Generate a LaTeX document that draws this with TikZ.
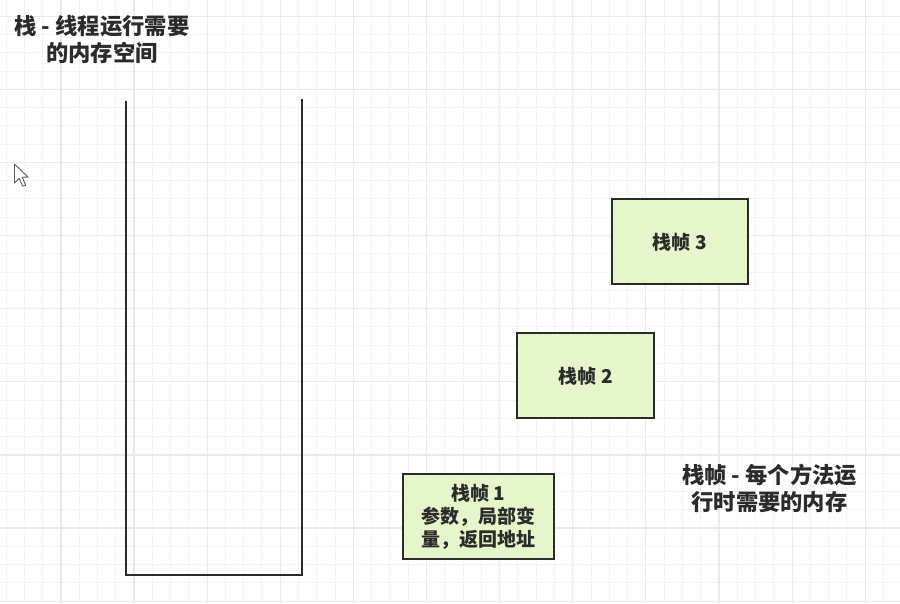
\documentclass[tikz,border=0pt]{standalone}
\usepackage{fontspec}
\newfontfamily\cjk{Noto Sans CJK SC}
\definecolor{gridminor}{HTML}{F3F3F3}
\definecolor{gridmajor}{HTML}{EAEAEA}
\definecolor{ink}{HTML}{2B2B2B}
\definecolor{framefill}{HTML}{E6F6CB}
\begin{document}
\begin{tikzpicture}[x=1pt,y=-1pt,
  label text/.style={text=ink, font={\cjk\bfseries\fontsize{22.3}{26.6}\selectfont}, align=center, inner sep=0pt},
  framebox/.style={draw=ink, line width=2pt, fill=framefill, text=ink,
    font={\cjk\bfseries\fontsize{19}{23.3}\selectfont}, align=center, inner sep=0pt},
  wall/.style={draw=ink, line width=2.2pt}]
  \useasboundingbox (0,0) rectangle (900,603);
  \fill[white] (0,0) rectangle (900,603);
  % background grid: fine lines, every fourth one a little darker
  \foreach \i in {0,...,49}{
    \draw[gridminor, line width=1pt] (6.06+18.28*\i,0) -- (6.06+18.28*\i,603);
  }
  \foreach \i in {0,...,33}{
    \draw[gridminor, line width=1pt] (0,-2.1+18.28*\i) -- (900,-2.1+18.28*\i);
  }
  \foreach \i in {0,...,12}{
    \draw[gridmajor, line width=1.2pt] (60.9+73.12*\i-73.12,0) -- (60.9+73.12*\i-73.12,603);
  }
  \foreach \i in {0,...,8}{
    \draw[gridmajor, line width=1.2pt] (0,16.2+73.12*\i) -- (900,16.2+73.12*\i);
  }

  % mouse pointer
  \draw[fill=white, draw=black!65, line width=0.9pt, line join=round]
    (14.5,164) -- (14.5,183) -- (19.2,178.3) -- (22.8,186.3) -- (25.6,185) -- (22.2,177.3) -- (28,177) -- cycle;

  % caption of the stack
  \node[label text] (stacktitle) at (102,39.5) {栈 - 线程运行需要\\的内存空间};

  % the stack: an open container
  \coordinate (sTL) at (126,100.5);
  \coordinate (sBL) at (126,575);
  \coordinate (sBR) at (302.3,575);
  \coordinate (sTR) at (302.3,98.5);
  \draw[wall, line join=miter] (sTL) -- (sBL) -- (sBR) -- (sTR);

  % stack frames
  \node[framebox, minimum width=136pt, minimum height=85pt] (f3) at (679.7,241.8) {栈帧 3};
  \node[framebox, minimum width=137pt, minimum height=85pt] (f2) at (585.8,375.8) {栈帧 2};
  \node[framebox, minimum width=151pt, minimum height=85pt] (f1) at (478.4,516.7) {栈帧 1\\参数，局部变\\量，返回地址};

  % caption of the frames
  \node[label text] (frametitle) at (769.5,488.5) {栈帧 - 每个方法运\\行时需要的内存};
\end{tikzpicture}
\end{document}
